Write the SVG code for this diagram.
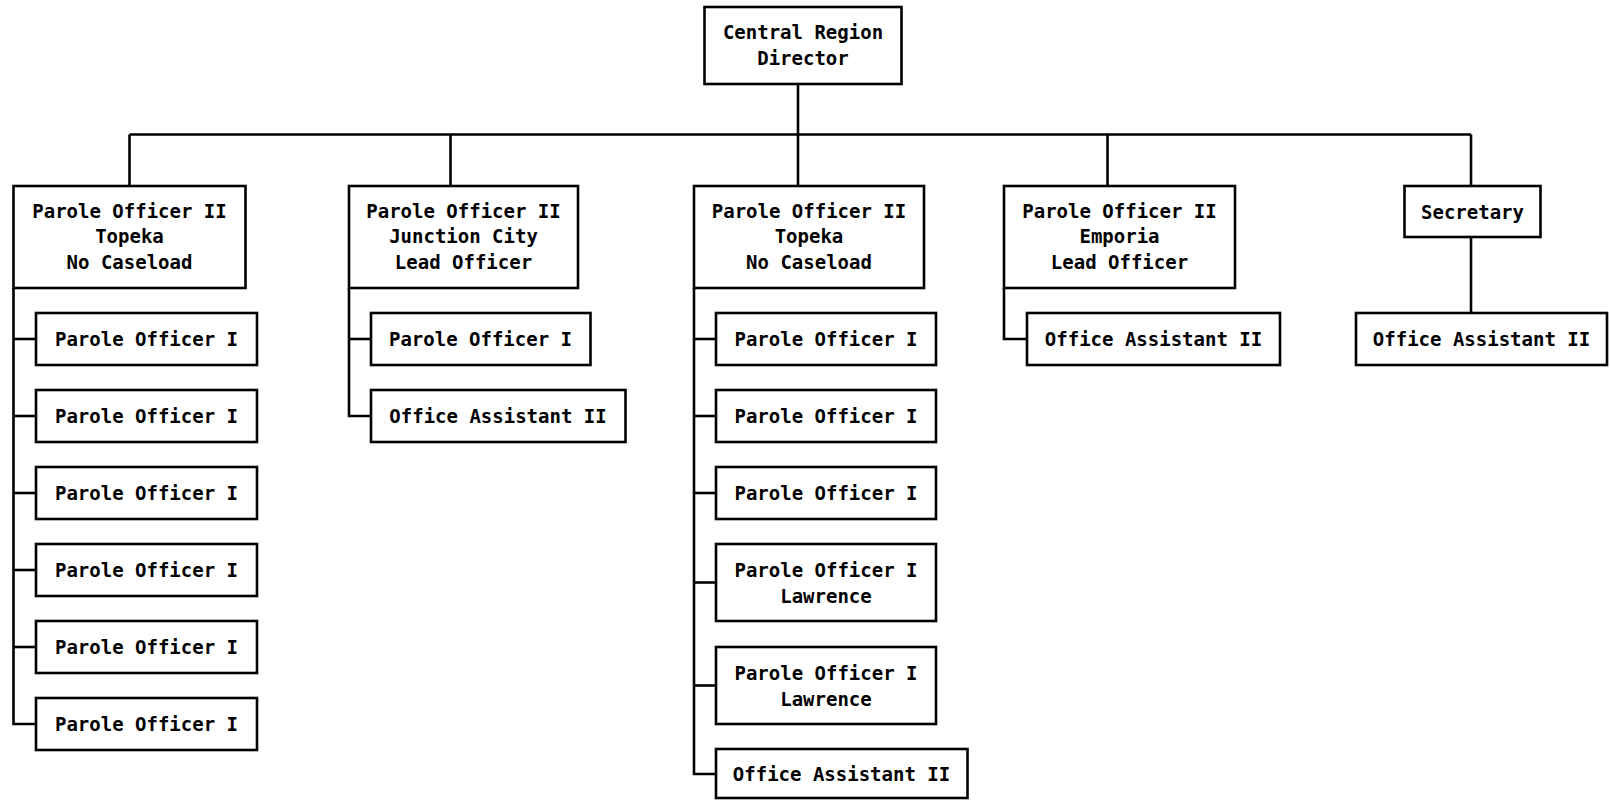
<svg xmlns="http://www.w3.org/2000/svg" width="1610" height="800" viewBox="0 0 1610 800">
<style>
rect{fill:#fff;stroke:#000;stroke-width:2.6}
.c line,.c path{stroke:#000;stroke-width:2.6;fill:none}
text{font-family:"DejaVu Sans Mono","Liberation Mono",monospace;font-weight:bold;font-size:19px;fill:#000;text-anchor:middle}
</style>
<rect x="0" y="0" width="1610" height="800" style="fill:#fff;stroke:none"/>
<g class="c" id="connectors">
<line x1="798" y1="84" x2="798" y2="186"/>
<line x1="129.5" y1="134.5" x2="1471" y2="134.5"/>
<line x1="129.5" y1="134.5" x2="129.5" y2="186"/>
<line x1="450.5" y1="134.5" x2="450.5" y2="186"/>
<line x1="1107.5" y1="134.5" x2="1107.5" y2="186"/>
<line x1="1471" y1="134.5" x2="1471" y2="186"/>
<line x1="1471" y1="237" x2="1471" y2="313"/>
<path d="M13.5 288V724H36"/>
<line x1="13.5" y1="339" x2="36" y2="339"/>
<line x1="13.5" y1="416" x2="36" y2="416"/>
<line x1="13.5" y1="493" x2="36" y2="493"/>
<line x1="13.5" y1="570" x2="36" y2="570"/>
<line x1="13.5" y1="647" x2="36" y2="647"/>
<path d="M349 288V416H371"/>
<line x1="349" y1="339" x2="371" y2="339"/>
<path d="M694 288V774H716"/>
<line x1="694" y1="339" x2="716" y2="339"/>
<line x1="694" y1="416" x2="716" y2="416"/>
<line x1="694" y1="493" x2="716" y2="493"/>
<line x1="694" y1="582.5" x2="716" y2="582.5"/>
<line x1="694" y1="685.5" x2="716" y2="685.5"/>
<path d="M1004 288V339H1027"/>
</g>
<g id="director"><rect x="704.5" y="7" width="197" height="77"/><text x="803" y="39">Central Region</text><text x="803" y="64.5">Director</text></g>
<g id="po2-topeka-a"><rect x="13.5" y="186" width="232" height="102"/><text x="129.5" y="217.5">Parole Officer II</text><text x="129.5" y="243">Topeka</text><text x="129.5" y="269">No Caseload</text></g>
<g id="po2-junction"><rect x="349" y="186" width="229" height="102"/><text x="463.5" y="217.5">Parole Officer II</text><text x="463.5" y="243">Junction City</text><text x="463.5" y="269">Lead Officer</text></g>
<g id="po2-topeka-b"><rect x="694" y="186" width="230" height="102"/><text x="809" y="217.5">Parole Officer II</text><text x="809" y="243">Topeka</text><text x="809" y="269">No Caseload</text></g>
<g id="po2-emporia"><rect x="1004" y="186" width="231" height="102"/><text x="1119.5" y="217.5">Parole Officer II</text><text x="1119.5" y="243">Emporia</text><text x="1119.5" y="269">Lead Officer</text></g>
<g id="secretary"><rect x="1404.5" y="186" width="136" height="51"/><text x="1472.5" y="218.5">Secretary</text></g>
<g id="a1"><rect x="36" y="313" width="221" height="52"/><text x="146.5" y="346">Parole Officer I</text></g>
<g id="a2"><rect x="36" y="390" width="221" height="52"/><text x="146.5" y="423">Parole Officer I</text></g>
<g id="a3"><rect x="36" y="467" width="221" height="52"/><text x="146.5" y="500">Parole Officer I</text></g>
<g id="a4"><rect x="36" y="544" width="221" height="52"/><text x="146.5" y="577">Parole Officer I</text></g>
<g id="a5"><rect x="36" y="621" width="221" height="52"/><text x="146.5" y="654">Parole Officer I</text></g>
<g id="a6"><rect x="36" y="698" width="221" height="52"/><text x="146.5" y="731">Parole Officer I</text></g>
<g id="b1"><rect x="371" y="313" width="219.5" height="52"/><text x="480.5" y="346">Parole Officer I</text></g>
<g id="b2"><rect x="371" y="390" width="254.5" height="52"/><text x="498" y="423">Office Assistant II</text></g>
<g id="c1"><rect x="716" y="313" width="220" height="52"/><text x="826" y="346">Parole Officer I</text></g>
<g id="c2"><rect x="716" y="390" width="220" height="52"/><text x="826" y="423">Parole Officer I</text></g>
<g id="c3"><rect x="716" y="467" width="220" height="52"/><text x="826" y="500">Parole Officer I</text></g>
<g id="c4"><rect x="716" y="544" width="220" height="77"/><text x="826" y="577">Parole Officer I</text><text x="826" y="602.5">Lawrence</text></g>
<g id="c5"><rect x="716" y="647" width="220" height="77"/><text x="826" y="680">Parole Officer I</text><text x="826" y="705.5">Lawrence</text></g>
<g id="c6"><rect x="716" y="749" width="251.5" height="49"/><text x="841.5" y="781">Office Assistant II</text></g>
<g id="d1"><rect x="1027" y="313" width="253" height="52"/><text x="1153.5" y="346">Office Assistant II</text></g>
<g id="s1"><rect x="1356" y="313" width="251" height="52"/><text x="1481.5" y="346">Office Assistant II</text></g>
</svg>
